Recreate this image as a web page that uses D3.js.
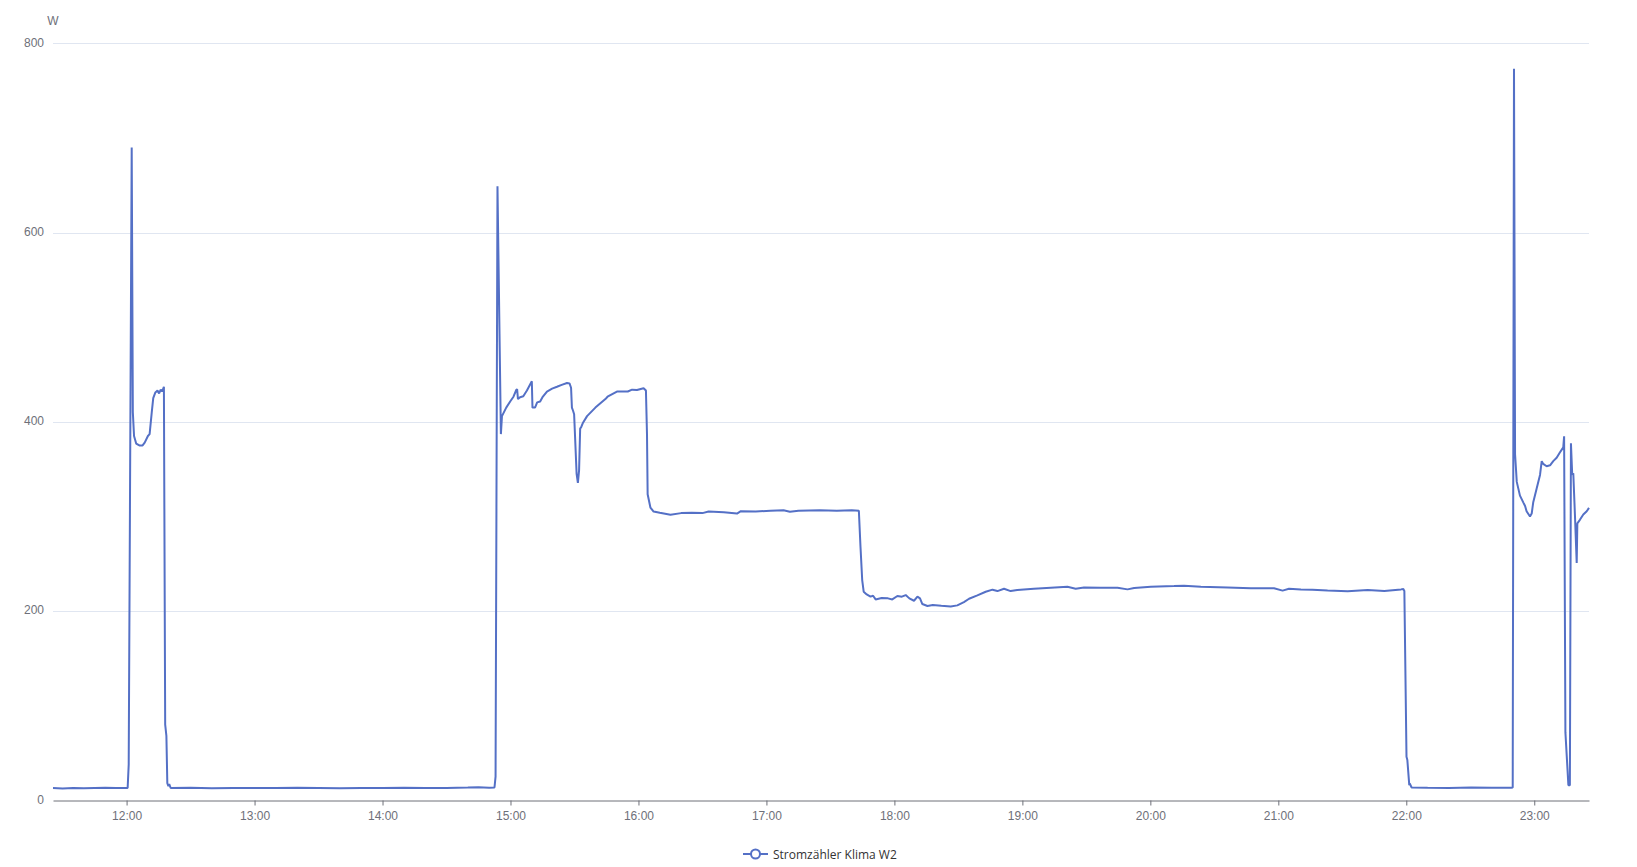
<!DOCTYPE html>
<html><head><meta charset="utf-8">
<script src="https://cdn.jsdelivr.net/npm/d3@7"></script>
<style>
body{margin:0;background:#fff}
svg{display:block}
text{font-family:"Liberation Sans",Arial,sans-serif}
</style>
</head><body>
<svg id="chart" width="1637" height="867"></svg>
<script>
const seriesName = "Stromzähler Klima W2";
const unitLabel = "W";
const yTicks = [0, 200, 400, 600, 800];
const xTickLabels = ["12:00","13:00","14:00","15:00","16:00","17:00","18:00","19:00","20:00","21:00","22:00","23:00"];
const xDomain = ["11:25:30", "23:25:40"];

const times = [
"11:25:30","11:30:00","11:35:00","11:40:00","11:45:00","11:50:00","11:55:00","12:00:30","12:01:00","12:02:24",
"12:02:56","12:03:30","12:04:30","12:06:00","12:07:30","12:08:30","12:10:00","12:10:48","12:11:48","12:12:30",
"12:13:30","12:14:30","12:15:15","12:16:00","12:16:40","12:17:30","12:18:06","12:18:40","12:19:06","12:19:36",
"12:20:00","12:20:40","12:30:00","12:40:00","12:50:00","13:00:00","13:10:00","13:20:00","13:30:00","13:40:00",
"13:50:00","14:00:00","14:10:00","14:20:00","14:30:00","14:40:00","14:45:00","14:50:00","14:52:30","14:53:00",
"14:53:54","14:55:30","14:56:00","14:58:00","15:00:00","15:01:24","15:02:42","15:03:06","15:03:30","15:04:30",
"15:06:00","15:07:42","15:10:00","15:10:18","15:11:30","15:12:30","15:13:54","15:15:00","15:17:06","15:19:30",
"15:21:48","15:24:00","15:26:30","15:27:40","15:28:24","15:28:48","15:29:20","15:29:50","15:31:00","15:31:36",
"15:32:10","15:32:40","15:33:06","15:34:00","15:35:54","15:39:48","15:44:30","15:45:30","15:49:54","15:55:00",
"15:57:00","15:59:18","16:02:24","16:03:30","16:04:00","16:04:18","16:05:36","16:07:06","16:10:00","16:15:00",
"16:20:00","16:25:00","16:30:00","16:32:54","16:40:00","16:46:12","16:48:00","16:55:00","17:01:54","17:08:00",
"17:11:00","17:15:00","17:25:00","17:33:00","17:40:00","17:43:20","17:44:06","17:44:54","17:45:36","17:47:00",
"17:48:48","17:50:00","17:51:12","17:54:00","17:57:00","17:59:00","18:01:24","18:03:30","18:05:18","18:07:00",
"18:09:12","18:10:48","18:12:00","18:13:06","18:15:30","18:18:00","18:22:00","18:26:24","18:29:30","18:32:36",
"18:35:00","18:38:54","18:42:48","18:46:00","18:48:18","18:51:24","18:54:30","18:57:36","19:05:24","19:13:18",
"19:21:06","19:25:00","19:28:54","19:36:48","19:44:36","19:49:18","19:52:24","20:00:12","20:11:06","20:15:48",
"20:23:42","20:36:12","20:47:06","20:58:00","21:02:00","21:05:00","21:10:36","21:16:00","21:23:06","21:32:30",
"21:41:54","21:49:42","21:57:30","21:58:36","21:59:06","22:00:06","22:00:30","22:01:24","22:01:36","22:02:30",
"22:10:00","22:20:00","22:30:24","22:40:00","22:48:30","22:49:06","22:49:54","22:50:30","22:51:00","22:51:48",
"22:53:18","22:54:54","22:55:42","22:56:24","22:58:00","22:58:48","22:59:30","23:01:06","23:02:42","23:03:30",
"23:04:12","23:05:48","23:07:24","23:08:54","23:10:30","23:12:00","23:13:36","23:14:00","23:14:36","23:16:00",
"23:16:42","23:17:12","23:17:48","23:18:18","23:19:06","23:19:54","23:20:12","23:21:24","23:23:00","23:24:36",
"23:25:40"
];
const values = [
13,12.6,13.1,12.8,13,13.2,12.9,13,38,690,
410,385,377,375,375,378,385,387,410,425,
431,433,430,434,432,437,80,68,18,15,
17,13,13.2,12.8,13.1,13,12.9,13.2,13,12.8,
13.1,13,13.2,12.9,13.1,13.5,13.8,13.2,13.5,25,
649,387,406,415,422,426.5,433.6,434.6,424,426,
427,433,442.8,415,415,420.5,421.5,426,432,435,
437,439,441,440.6,436,415,411.7,408,345,335.5,
349,393,394,399,406,415,424,426.5,432,432,
434,433.6,435.5,433,387,323.5,309.4,305.2,303.8,301.7,
303.5,303.8,303.5,305.2,304.5,303,305.6,305.2,306,306.6,
304.9,306,306.6,306,306.5,306,268,232.8,220.4,217.6,
215.2,216.2,212.3,213.7,213.4,212.3,215.9,215.2,216.9,213.4,
210.9,215.2,213.4,207.4,205.3,206.3,205.6,204.9,206,209.5,
213,216.6,220.4,222.6,221.1,223.6,221.1,222.2,223.6,224.7,
225.7,223.6,225,224.7,224.7,222.9,224.3,225.7,226.4,226.8,
225.7,225,224,224,221.6,223.5,222.9,222.5,221.6,220.9,
222.3,221.2,222.9,223.2,221.1,46,42.5,16,17.7,13.5,
13.2,13,13.6,13.3,13.2,13.2,13.5,773,365.7,336.5,
322,314.6,311,305.5,300,303,314.6,329.2,343.8,358.4,
355.5,353,354,358.4,362,367.5,373,384.7,72,16,
16,377.4,343.8,345.6,300,250.7,292.7,296.4,302,305.5,
309,310
];

const parseT = d3.timeParse("%Y-%m-%d %H:%M:%S");
const toDate = s => parseT("2024-06-01 " + s);
const data = times.map((t, i) => ({t: toDate(t), v: values[i]}));

const W = 1637, H = 867;
const m = {left: 53, right: 48, top: 43.3, bottom: 66.7};
const svg = d3.select("#chart");

const x = d3.scaleTime().domain(xDomain.map(toDate)).range([m.left, W - m.right]);
const y = d3.scaleLinear().domain([0, 800]).range([H - m.bottom, m.top]);

const axisColor = "#6E7079";

// grid lines
svg.append("g").selectAll("line").data(yTicks.filter(d => d > 0)).join("line")
  .attr("x1", m.left).attr("x2", W - m.right)
  .attr("y1", d => Math.round(y(d)) + 0.5).attr("y2", d => Math.round(y(d)) + 0.5)
  .attr("stroke", "#E0E6F1").attr("stroke-width", 1);

// y axis labels
const yAxis = d3.axisLeft(y).tickValues(yTicks).tickSize(0).tickPadding(9);
const gy = svg.append("g").attr("transform", `translate(${m.left},-1)`).call(yAxis);
gy.select(".domain").remove();
gy.selectAll("text").attr("fill", axisColor).style("font-size", "12px");

// x axis
const xTickDates = xTickLabels.map(s => toDate(s + ":00"));
const xAxis = d3.axisBottom(x).tickValues(xTickDates).tickFormat((d, i) => xTickLabels[i]).tickSizeInner(5).tickSizeOuter(0).tickPadding(6);
const gx = svg.append("g").attr("transform", `translate(0,${Math.round(y(0)) + 0.5})`).call(xAxis);
gx.select(".domain").attr("stroke", axisColor);
gx.selectAll(".tick line").attr("stroke", axisColor);
gx.selectAll("text").attr("fill", axisColor).style("font-size", "12px");

// unit label
svg.append("text").attr("x", m.left).attr("y", 21).attr("text-anchor", "middle")
  .attr("dominant-baseline", "central").attr("fill", axisColor).style("font-size", "12px").text(unitLabel);

// line
const line = d3.line().x(d => x(d.t)).y(d => y(d.v));
svg.append("path").datum(data).attr("d", line)
  .attr("fill", "none").attr("stroke", "#5470c6").attr("stroke-width", 2)
  .attr("stroke-linejoin", "bevel");

// legend
const lg = svg.append("g").attr("transform", "translate(743,854)");
lg.append("line").attr("x1", 0).attr("x2", 25).attr("y1", 0).attr("y2", 0)
  .attr("stroke", "#5470c6").attr("stroke-width", 2);
lg.append("circle").attr("cx", 12.5).attr("cy", 0).attr("r", 4.5)
  .attr("fill", "#fff").attr("stroke", "#5470c6").attr("stroke-width", 2);
lg.append("text").attr("x", 30).attr("y", 0).attr("dominant-baseline", "central")
  .attr("fill", "#333").style("font-size", "12px").style("font-family", "'Open Sans','Noto Sans',sans-serif")
  .text(seriesName);
</script>
</body></html>
